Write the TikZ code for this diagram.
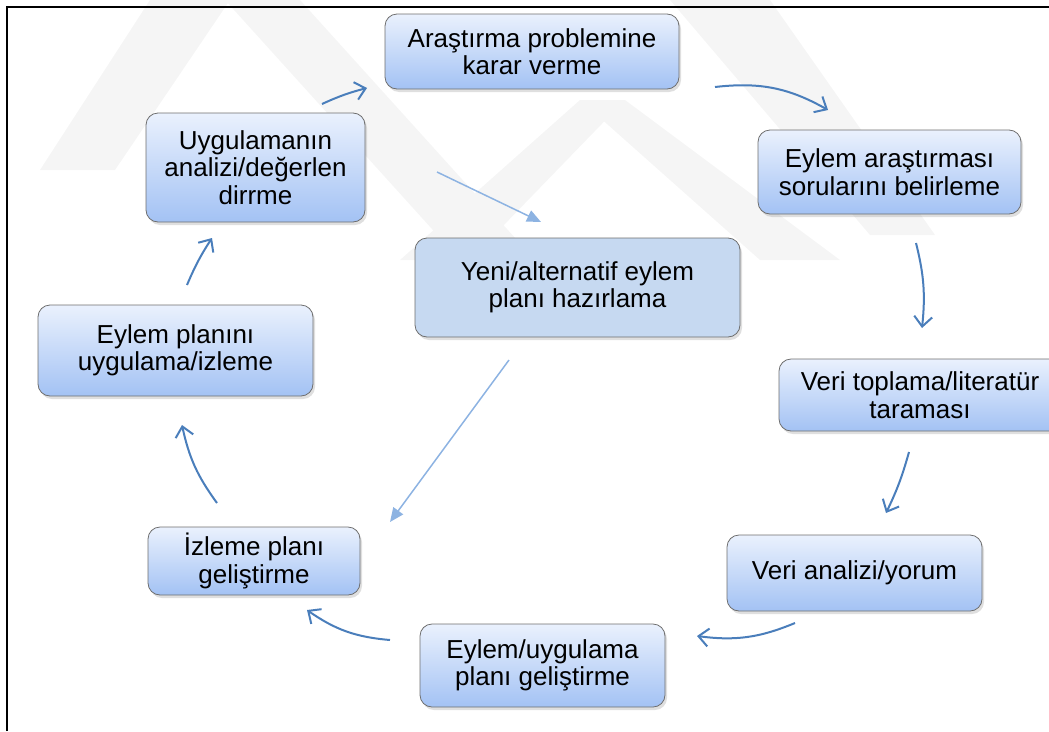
\documentclass[tikz,border=0pt]{standalone}
\usepackage{fontspec}
\setmainfont{Liberation Sans}
\usetikzlibrary{arrows.meta,shadows}
\definecolor{arrblue}{RGB}{74,126,187}
\definecolor{lightarr}{RGB}{141,179,226}
\definecolor{boxtop}{RGB}{234,241,253}
\definecolor{boxbot}{RGB}{163,194,244}
\definecolor{boxline}{RGB}{110,110,110}
\definecolor{altfill}{RGB}{198,217,241}
\definecolor{wm}{RGB}{245,245,245}
\tikzset{
  basebox/.style={rounded corners=12pt, draw=boxline, line width=0.8pt, align=center,
    inner sep=0pt, font=\fontsize{26}{27.5}\selectfont,
    drop shadow={shadow xshift=2pt, shadow yshift=-3pt, opacity=0.25}},
  stepbox/.style={basebox, top color=boxtop, bottom color=boxbot},
  altbox/.style={basebox, fill=altfill},
  cyc/.style={draw=arrblue, line width=2pt, -{Straight Barb[length=10pt,width=18pt]}},
  altarrow/.style={draw=lightarr, line width=1.5pt, -{Triangle[length=14pt,width=12pt]}},
  wmark/.style={fill=wm, draw=none}
}
\begin{document}
\begin{tikzpicture}[x=1pt,y=1pt]
\useasboundingbox (0,0) rectangle (1049,-731);
% watermark (faint)
\fill[wmark] (150,0) -- (230,0) -- (115,-170) -- (40,-170) -- cycle;
\fill[wmark] (225,0) -- (300,0) -- (535,-260) -- (460,-260) -- cycle;
\fill[wmark] (580,-100) -- (625,-100) -- (840,-260) -- (760,-260) -- cycle;
\fill[wmark] (580,-100) -- (625,-100) -- (470,-260) -- (400,-260) -- cycle;
\fill[wmark] (670,0) -- (770,0) -- (935,-235) -- (870,-235) -- cycle;
% frame
\draw[line width=2pt] (7,-731) -- (7,-7) -- (1052,-7);
% nodes
\node[stepbox, minimum width=294pt, minimum height=75pt] (n1) at (532,-51.5) {Araştırma problemine\\karar verme};
\node[stepbox, minimum width=263pt, minimum height=84pt] (n2) at (889.5,-172) {Eylem araştırması\\sorularını belirleme};
\node[stepbox, minimum width=282pt, minimum height=72pt] (n3) at (920,-395) {Veri toplama/literatür\\taraması};
\node[stepbox, minimum width=255pt, minimum height=76pt] (n4) at (854.5,-573) {Veri analizi/yorum};
\node[stepbox, minimum width=245pt, minimum height=83pt] (n5) at (542.5,-665.5) {Eylem/uygulama\\planı geliştirme};
\node[stepbox, minimum width=212pt, minimum height=68pt] (n6) at (254,-561) {İzleme planı\\geliştirme};
\node[stepbox, minimum width=275pt, minimum height=91pt] (n7) at (175.5,-350.5) {Eylem planını\\uygulama/izleme};
\node[stepbox, minimum width=219pt, minimum height=109pt] (n8) at (255.5,-167.5) {Uygulamanın\\analizi/değerlen\\dirrme};
\node[altbox, minimum width=325pt, minimum height=99pt] (n9) at (577.5,-287.5) {Yeni/alternatif eylem\\planı hazırlama};
% connector end points
\coordinate (a1) at (322,-104); \coordinate (a2) at (367,-88);
\coordinate (b1) at (715,-87);  \coordinate (b2) at (828,-110);
\coordinate (c1) at (916,-243); \coordinate (c2) at (922,-328);
\coordinate (d1) at (909,-452); \coordinate (d2) at (886,-513);
\coordinate (e1) at (795,-623); \coordinate (e2) at (697,-636);
\coordinate (f1) at (390,-640); \coordinate (f2) at (307,-610);
\coordinate (g1) at (217,-503); \coordinate (g2) at (182,-425);
\coordinate (h1) at (187,-285); \coordinate (h2) at (212,-238);
\coordinate (i1) at (437,-172); \coordinate (i2) at (541,-222);
\coordinate (j1) at (509,-360); \coordinate (j2) at (390,-522);
% cycle arrows
\draw[cyc] (a1) to[bend left=5] (a2);
\draw[cyc] (b1) to[bend left=18] (b2);
\draw[cyc] (c1) to[bend left=10] (c2);
\draw[cyc] (d1) to[bend left=5] (d2);
\draw[cyc] (e1) to[bend left=15] (e2);
\draw[cyc] (f1) to[bend left=15] (f2);
\draw[cyc] (g1) to[bend left=12] (g2);
\draw[cyc] (h1) to[bend left=5] (h2);
% alternative path arrows
\draw[altarrow] (i1) -- (i2);
\draw[altarrow] (j1) -- (j2);
\end{tikzpicture}
\end{document}
